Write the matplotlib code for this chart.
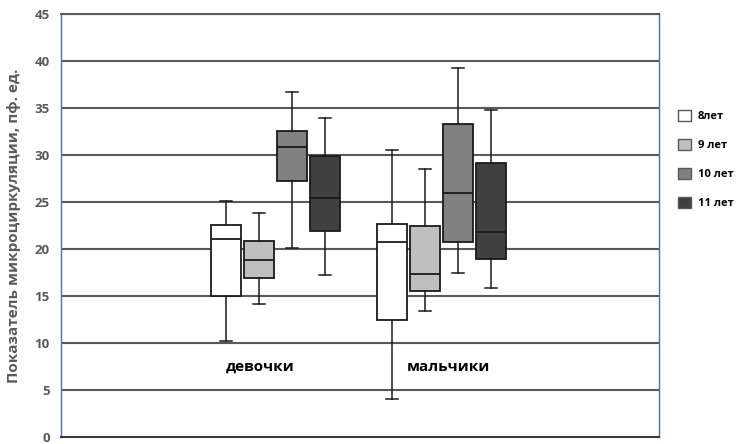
import numpy as np
import matplotlib.pyplot as plt
from matplotlib.patches import Patch

plt.rcParams['font.family'] = ['Open Sans', 'DejaVu Sans']

groups = ['девочки', 'мальчики']
ages = ['8лет', '9 лет', '10 лет', '11 лет']
colors = ['#ffffff', '#bfbfbf', '#808080', '#404040']

# [girls, boys] for each age group
whislo = [[10.2, 4.0], [14.1, 13.4], [20.1, 17.5], [17.2, 15.9]]
q1 = [[15.0, 12.5], [16.9, 15.5], [27.2, 20.7], [21.9, 18.9]]
med = [[21.1, 20.7], [18.8, 17.3], [30.9, 26.0], [25.4, 21.8]]
q3 = [[22.5, 22.7], [20.8, 22.4], [32.6, 33.3], [29.9, 29.1]]
whishi = [[25.1, 30.5], [23.8, 28.5], [36.7, 39.3], [33.9, 34.8]]

offsets = [-0.298, -0.099, 0.099, 0.298]
width = 0.18

fig = plt.figure(figsize=(7.37, 4.44), dpi=100)
ax = fig.add_axes([61/737, 7/444, 598/737, 423/444])

ax.set_ylim(0, 45)
ax.set_xlim(-0.292, 3.31)
ax.set_yticks(np.arange(0, 46, 5))
ax.set_xticks([])
for y in np.arange(5, 46, 5):
    ax.axhline(y, color='#595959', lw=1.5, zorder=0)

for a in range(len(ages)):
    stats = []
    pos = []
    for g in range(len(groups)):
        stats.append({'whislo': whislo[a][g], 'q1': q1[a][g], 'med': med[a][g],
                      'q3': q3[a][g], 'whishi': whishi[a][g], 'fliers': []})
        pos.append(g + 1 + offsets[a])
    ax.bxp(stats, positions=pos, widths=width, patch_artist=True, showfliers=False,
           boxprops=dict(facecolor=colors[a], edgecolor='#1a1a1a', lw=1.3),
           medianprops=dict(color='#1a1a1a', lw=1.3),
           whiskerprops=dict(color='#1a1a1a', lw=1.1),
           capprops=dict(color='#1a1a1a', lw=1.1), capwidths=0.07,
           manage_ticks=False, zorder=3)

ax.text(0.907, 7.5, groups[0], ha='center', va='center', fontsize=11, fontweight='bold')
ax.text(2.04, 7.5, groups[1], ha='center', va='center', fontsize=11, fontweight='bold')

for s in ['left', 'right']:
    ax.spines[s].set_color('#4f6fa8')
    ax.spines[s].set_linewidth(1.0)
ax.spines['top'].set_color('#595959')
ax.spines['top'].set_linewidth(1.5)
ax.spines['bottom'].set_color('#3a3a3a')
ax.spines['bottom'].set_linewidth(1.5)

ax.tick_params(axis='y', length=0, pad=8, labelsize=9.5, labelcolor='#595959')
for lbl in ax.get_yticklabels():
    lbl.set_fontweight('bold')
ax.set_ylabel('Показатель микроциркуляции, пф. ед.', fontsize=11, color='#595959',
              fontweight='bold', labelpad=10)

handles = [Patch(facecolor=c, edgecolor='#595959', lw=1.0) for c in colors]
fig.legend(handles, ages, loc='upper left', bbox_to_anchor=(0.907, 0.775), frameon=False,
           handlelength=1.15, handleheight=1.15, handletextpad=0.6, labelspacing=1.5,
           prop={'weight': 'bold', 'size': 8})

fig.savefig('out.png', dpi=100)
